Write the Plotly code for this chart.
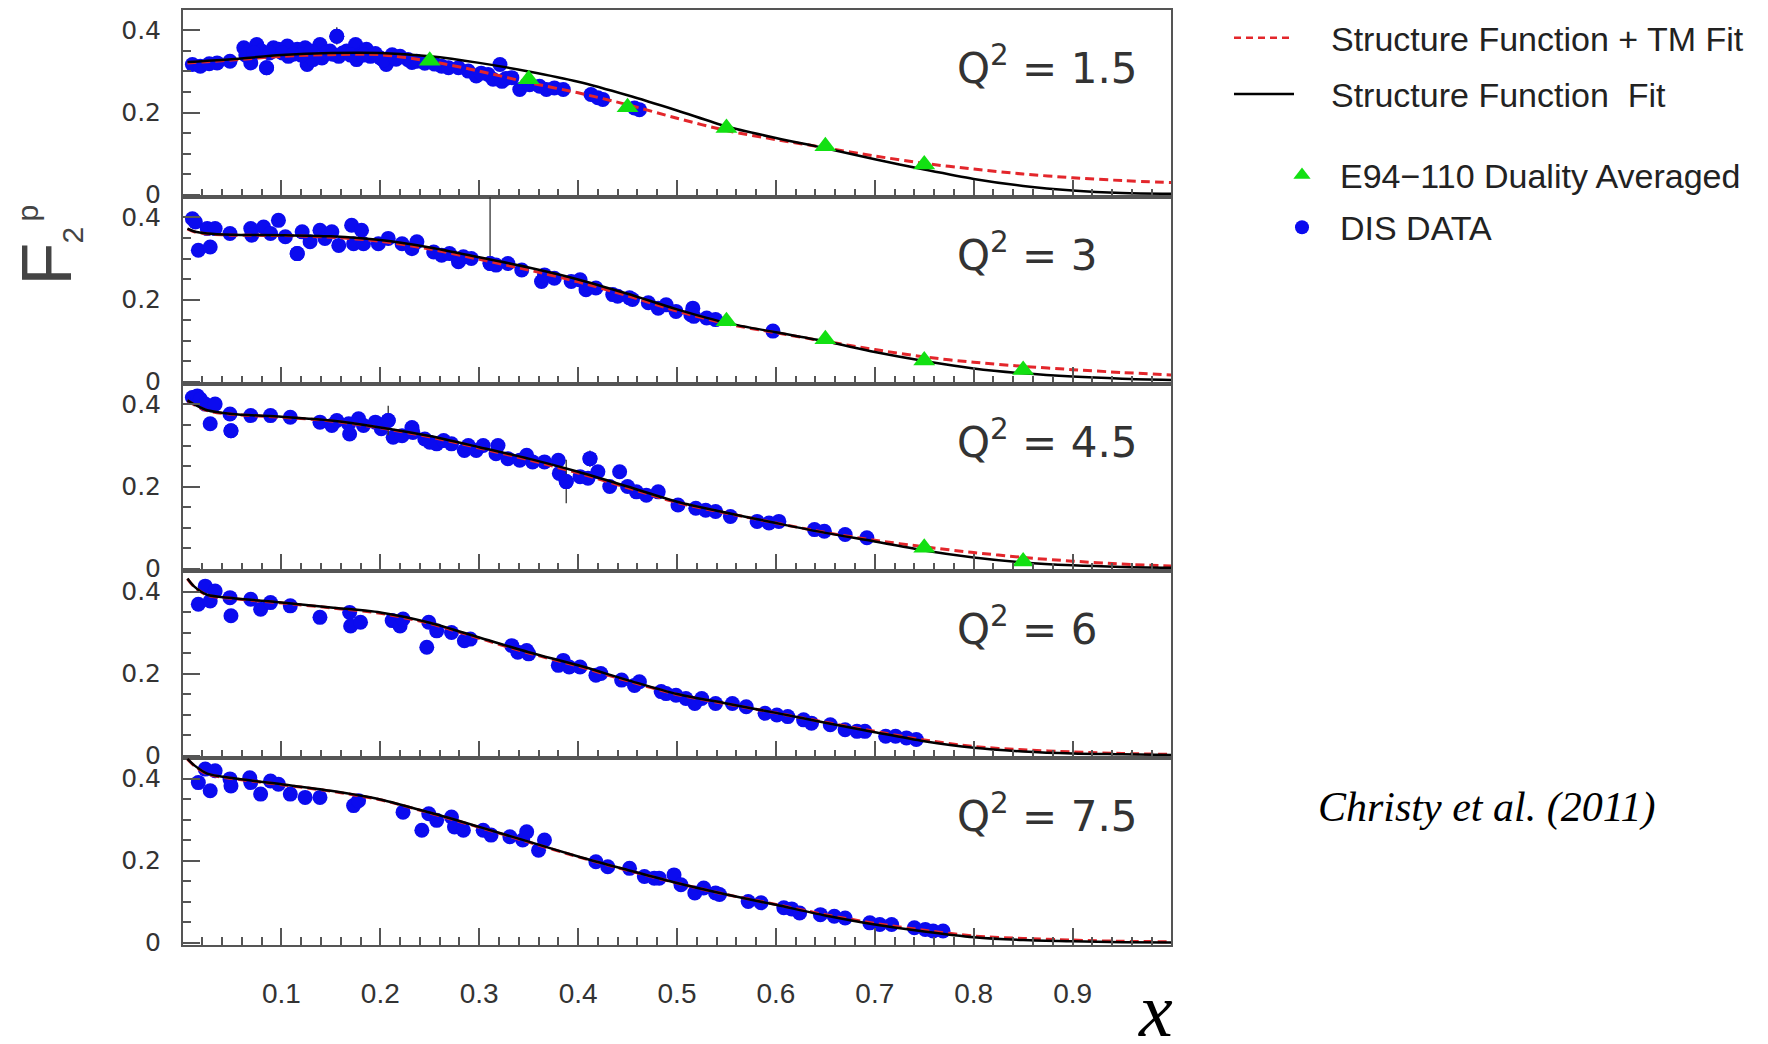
import plotly.graph_objects as go

W, H = 1768, 1044          # screen size the picture is taken at
OFF = 8                    # default page margin around the plot div
FW, FH = W - 2 * OFF, H - 2 * OFF

# ---------------- data ----------------
Q2_LABELS = ["1.5", "3", "4.5", "6", "7.5"]

X_TICK_STEP = 0.1
Y_TICK_STEP = 0.2

CURVE_X = [0.005, 0.012, 0.025, 0.05, 0.10, 0.15, 0.20, 0.25, 0.30, 0.35, 0.40, 0.45,
           0.50, 0.55, 0.60, 0.65, 0.70, 0.75, 0.80, 0.85, 0.90, 0.95, 1.00]

# "Structure Function Fit" (black solid), one list per Q^2 panel
SF_FIT = [
    [0.323, 0.324, 0.326, 0.330, 0.340, 0.345, 0.345, 0.337, 0.321, 0.300, 0.275, 0.242,
     0.205, 0.166, 0.138, 0.113, 0.086, 0.061, 0.038, 0.021, 0.010, 0.004, 0.002],
    [0.373, 0.366, 0.361, 0.358, 0.357, 0.354, 0.345, 0.327, 0.303, 0.278, 0.249, 0.214,
     0.176, 0.143, 0.120, 0.098, 0.072, 0.050, 0.032, 0.020, 0.012, 0.007, 0.004],
    [0.410, 0.400, 0.386, 0.377, 0.370, 0.361, 0.344, 0.323, 0.296, 0.268, 0.236, 0.200,
     0.163, 0.136, 0.111, 0.087, 0.066, 0.044, 0.027, 0.015, 0.008, 0.004, 0.002],
    [0.432, 0.412, 0.392, 0.384, 0.373, 0.361, 0.349, 0.324, 0.288, 0.252, 0.220, 0.184,
     0.150, 0.127, 0.104, 0.080, 0.057, 0.035, 0.019, 0.010, 0.005, 0.003, 0.001],
    [0.448, 0.432, 0.412, 0.401, 0.386, 0.370, 0.349, 0.317, 0.282, 0.246, 0.210, 0.177,
     0.145, 0.117, 0.092, 0.066, 0.044, 0.027, 0.013, 0.006, 0.003, 0.001, 0.000],
]

# "Structure Function + TM Fit" (red dashed)
SF_TM_FIT = [
    [0.321, 0.322, 0.324, 0.328, 0.337, 0.341, 0.341, 0.325, 0.301, 0.273, 0.248, 0.219,
     0.186, 0.156, 0.134, 0.114, 0.094, 0.076, 0.062, 0.050, 0.041, 0.034, 0.029],
    [0.372, 0.365, 0.360, 0.357, 0.356, 0.352, 0.342, 0.323, 0.298, 0.272, 0.243, 0.209,
     0.172, 0.141, 0.119, 0.098, 0.078, 0.060, 0.047, 0.037, 0.029, 0.022, 0.016],
    [0.409, 0.399, 0.385, 0.376, 0.369, 0.360, 0.343, 0.321, 0.294, 0.265, 0.233, 0.197,
     0.161, 0.135, 0.111, 0.088, 0.069, 0.053, 0.039, 0.027, 0.018, 0.011, 0.006],
    [0.431, 0.411, 0.391, 0.383, 0.372, 0.360, 0.347, 0.322, 0.286, 0.250, 0.218, 0.182,
     0.149, 0.126, 0.104, 0.081, 0.059, 0.038, 0.022, 0.014, 0.009, 0.005, 0.003],
    [0.447, 0.431, 0.411, 0.400, 0.385, 0.369, 0.348, 0.316, 0.281, 0.245, 0.209, 0.176,
     0.145, 0.117, 0.093, 0.068, 0.047, 0.030, 0.016, 0.010, 0.006, 0.003, 0.002],
]

# E94-110 duality averaged points
TRI_X = [[0.25, 0.35, 0.45, 0.55, 0.65, 0.75], [0.55, 0.65, 0.75, 0.85], [0.75, 0.85], [], []]
TRI_Y = [[0.326, 0.281, 0.213, 0.162, 0.118, 0.073], [0.147, 0.103, 0.051, 0.028], [0.051, 0.017], [], []]

# DIS data
P1_X = [0.010, 0.018, 0.027, 0.035, 0.048, 0.062, 0.067, 0.069, 0.075, 0.080, 0.085, 0.092, 0.097,
        0.106, 0.107, 0.116, 0.124, 0.126, 0.132, 0.139, 0.141, 0.149, 0.156, 0.158, 0.166, 0.175,
        0.176, 0.180, 0.186, 0.190, 0.200, 0.206, 0.212, 0.220, 0.228, 0.237, 0.262, 0.269, 0.279,
        0.289, 0.297, 0.309, 0.314, 0.321, 0.323, 0.333, 0.341, 0.351, 0.361, 0.368, 0.376, 0.385,
        0.413, 0.420, 0.425, 0.457, 0.462,
        0.064, 0.072, 0.088, 0.101, 0.112, 0.120, 0.130, 0.145, 0.152, 0.162, 0.170, 0.183, 0.195,
        0.203, 0.216, 0.232, 0.245, 0.255, 0.302, 0.327]
P1_Y = [0.317, 0.313, 0.319, 0.321, 0.325, 0.358, 0.350, 0.321, 0.366, 0.350, 0.309, 0.358, 0.354,
        0.362, 0.337, 0.354, 0.358, 0.317, 0.329, 0.366, 0.333, 0.350, 0.386, 0.337, 0.350, 0.366,
        0.329, 0.341, 0.354, 0.337, 0.333, 0.317, 0.341, 0.337, 0.329, 0.325, 0.313, 0.309, 0.309,
        0.301, 0.289, 0.293, 0.281, 0.317, 0.276, 0.285, 0.256, 0.268, 0.264, 0.256, 0.260, 0.256,
        0.244, 0.236, 0.232, 0.211, 0.207,
        0.340, 0.345, 0.345, 0.345, 0.342, 0.340, 0.350, 0.345, 0.342, 0.345, 0.340, 0.340, 0.344,
        0.328, 0.330, 0.322, 0.320, 0.318, 0.296, 0.283]

P2_X = [0.010, 0.013, 0.016, 0.025, 0.028, 0.033, 0.048, 0.069, 0.070, 0.082, 0.089, 0.097, 0.104,
        0.116, 0.121, 0.129, 0.139, 0.144, 0.151, 0.158, 0.171, 0.173, 0.181, 0.183, 0.198, 0.208,
        0.222, 0.232, 0.237, 0.254, 0.262, 0.270, 0.279, 0.284, 0.292, 0.311, 0.317, 0.329, 0.343,
        0.363, 0.366, 0.376, 0.393, 0.402, 0.408, 0.418, 0.435, 0.440, 0.452, 0.455, 0.471, 0.481,
        0.489, 0.499, 0.514, 0.516, 0.517, 0.530, 0.539, 0.597]
P2_Y = [0.397, 0.389, 0.320, 0.373, 0.328, 0.373, 0.361, 0.373, 0.357, 0.377, 0.361, 0.393, 0.353,
        0.312, 0.365, 0.341, 0.369, 0.349, 0.365, 0.332, 0.381, 0.336, 0.369, 0.336, 0.336, 0.349,
        0.336, 0.324, 0.341, 0.316, 0.308, 0.312, 0.292, 0.304, 0.300, 0.288, 0.284, 0.288, 0.272,
        0.244, 0.260, 0.252, 0.244, 0.248, 0.224, 0.228, 0.212, 0.208, 0.204, 0.200, 0.192, 0.179,
        0.187, 0.171, 0.163, 0.179, 0.159, 0.155, 0.151, 0.123]

P3_X = [0.010, 0.015, 0.018, 0.023, 0.028, 0.033, 0.048, 0.049, 0.069, 0.089, 0.109, 0.139, 0.151,
        0.156, 0.168, 0.169, 0.178, 0.183, 0.195, 0.201, 0.208, 0.213, 0.222, 0.232, 0.233, 0.245,
        0.250, 0.257, 0.264, 0.272, 0.285, 0.289, 0.297, 0.304, 0.317, 0.319, 0.329, 0.341, 0.348,
        0.354, 0.366, 0.380, 0.381, 0.388, 0.402, 0.410, 0.412, 0.420, 0.432, 0.442, 0.450, 0.459,
        0.469, 0.481, 0.501, 0.519, 0.529, 0.539, 0.554, 0.581, 0.593, 0.603, 0.639, 0.649, 0.670,
        0.692]
P3_Y = [0.417, 0.421, 0.413, 0.401, 0.353, 0.401, 0.377, 0.336, 0.373, 0.373, 0.369, 0.357, 0.349,
        0.361, 0.353, 0.328, 0.365, 0.349, 0.357, 0.341, 0.361, 0.320, 0.324, 0.344, 0.332, 0.316,
        0.308, 0.304, 0.312, 0.304, 0.288, 0.300, 0.288, 0.300, 0.280, 0.300, 0.268, 0.264, 0.276,
        0.260, 0.260, 0.264, 0.232, 0.212, 0.224, 0.220, 0.268, 0.236, 0.200, 0.236, 0.200, 0.187,
        0.179, 0.187, 0.155, 0.147, 0.142, 0.139, 0.127, 0.115, 0.111, 0.115, 0.095, 0.091, 0.083,
        0.075]

P4_X = [0.016, 0.023, 0.028, 0.033, 0.048, 0.049, 0.069, 0.079, 0.089, 0.109, 0.139, 0.169, 0.170,
        0.180, 0.212, 0.220, 0.223, 0.247, 0.249, 0.257, 0.272, 0.285, 0.291, 0.333, 0.339, 0.348,
        0.350, 0.380, 0.385, 0.391, 0.402, 0.418, 0.423, 0.444, 0.457, 0.462, 0.484, 0.489, 0.499,
        0.509, 0.518, 0.525, 0.539, 0.556, 0.570, 0.589, 0.601, 0.612, 0.628, 0.636, 0.655, 0.670,
        0.682, 0.690, 0.711, 0.721, 0.732, 0.742]
P4_Y = [0.369, 0.413, 0.377, 0.401, 0.385, 0.341, 0.381, 0.357, 0.373, 0.365, 0.337, 0.349, 0.316,
        0.325, 0.329, 0.316, 0.333, 0.264, 0.325, 0.304, 0.300, 0.280, 0.284, 0.268, 0.252, 0.256,
        0.248, 0.220, 0.232, 0.216, 0.216, 0.196, 0.200, 0.184, 0.171, 0.180, 0.156, 0.151, 0.147,
        0.139, 0.127, 0.139, 0.127, 0.127, 0.119, 0.103, 0.099, 0.095, 0.087, 0.079, 0.075, 0.063,
        0.059, 0.059, 0.047, 0.047, 0.043, 0.039]

P5_X = [0.016, 0.023, 0.028, 0.033, 0.048, 0.049, 0.068, 0.069, 0.079, 0.089, 0.097, 0.109, 0.124,
        0.139, 0.173, 0.178, 0.223, 0.242, 0.249, 0.257, 0.272, 0.275, 0.284, 0.304, 0.312, 0.331,
        0.344, 0.348, 0.360, 0.366, 0.418, 0.430, 0.452, 0.467, 0.477, 0.482, 0.497, 0.504, 0.518,
        0.527, 0.539, 0.543, 0.572, 0.585, 0.608, 0.616, 0.624, 0.645, 0.659, 0.670, 0.695, 0.705,
        0.717, 0.740, 0.751, 0.759, 0.769]
P5_Y = [0.390, 0.423, 0.370, 0.419, 0.399, 0.382, 0.402, 0.390, 0.362, 0.394, 0.386, 0.362, 0.354,
        0.354, 0.334, 0.346, 0.318, 0.274, 0.314, 0.298, 0.306, 0.282, 0.274, 0.274, 0.262, 0.258,
        0.250, 0.270, 0.225, 0.250, 0.197, 0.185, 0.181, 0.161, 0.157, 0.157, 0.165, 0.141, 0.121,
        0.133, 0.121, 0.117, 0.100, 0.097, 0.085, 0.082, 0.072, 0.068, 0.064, 0.060, 0.048, 0.044,
        0.044, 0.036, 0.032, 0.028, 0.028]

DIS_X = [P1_X, P2_X, P3_X, P4_X, P5_X]
DIS_Y = [P1_Y, P2_Y, P3_Y, P4_Y, P5_Y]

# DIS points with visible error bars
ERR_X = [[0.156, 0.085], [0.311, 0.116], [0.388, 0.412, 0.208, 0.049], [], []]
ERR_Y = [[0.386, 0.309], [0.288, 0.312], [0.212, 0.268, 0.361, 0.336], [], []]
ERR_MINUS = [[0.020, 0.014], [0.0, 0.012], [0.053, 0.020, 0.036, 0.016], [], []]
ERR_PLUS = [[0.022, 0.010], [0.170, 0.012], [0.053, 0.020, 0.036, 0.016], [], []]

LEGEND_LABELS = ["Structure Function + TM Fit", "Structure Function\u00a0\u00a0Fit",
                 "E94\u2212110 Duality Averaged", "DIS DATA"]

# ---------------- styling ----------------
BLUE = "#0b0bef"
GREEN = "#12e012"
RED = "#e3262b"
AXC = "#555555"
TXT = "#333333"
DOT = 15
TRI = 19


def px_x(p):
    """screen pixel -> paper x"""
    return (p - OFF) / FW


def px_y(p):
    """screen pixel -> paper y"""
    return 1 - (p - OFF) / FH


PLOT_L, PLOT_R, PLOT_T, PLOT_B = 183, 1171, 9, 956
NP = 5
PH = (PLOT_B - PLOT_T) / NP

fig = go.Figure()
layout = dict(
    width=FW, height=FH, margin=dict(l=0, r=0, t=0, b=0),
    paper_bgcolor="white", plot_bgcolor="white", showlegend=False,
)

annotations = []
for k in range(NP):
    xa = "x" if k == 0 else f"x{k+1}"
    ya = "y" if k == 0 else f"y{k+1}"
    top = PLOT_T + k * PH
    bot = top + PH
    layout["xaxis" if k == 0 else f"xaxis{k+1}"] = dict(
        domain=[px_x(PLOT_L), px_x(PLOT_R)], range=[0.0005, 0.9995], anchor=ya,
        showline=True, mirror=True, linecolor=AXC, linewidth=2,
        ticks="inside", ticklen=17, tickwidth=1.5, tickcolor=AXC,
        tick0=0, dtick=X_TICK_STEP,
        minor=dict(ticks="inside", ticklen=8, tickwidth=1.5, tickcolor=AXC, tick0=0, dtick=0.02),
        showgrid=False, zeroline=False, showticklabels=(k == NP - 1),
        tickfont=dict(family="Liberation Sans", size=28, color=TXT), ticklabelstandoff=22,
    )
    layout["yaxis" if k == 0 else f"yaxis{k+1}"] = dict(
        domain=[px_y(bot), px_y(top)], range=[-0.006, 0.45], anchor=xa,
        showline=True, mirror=True, linecolor=AXC, linewidth=2,
        ticks="inside", ticklen=17, tickwidth=1.5, tickcolor=AXC,
        tick0=0, dtick=Y_TICK_STEP,
        minor=dict(ticks="inside", ticklen=8, tickwidth=1.5, tickcolor=AXC, tick0=0, dtick=0.05),
        showgrid=False, zeroline=False,
        tickfont=dict(family="DejaVu Sans", size=25, color=TXT), ticklabelstandoff=15,
    )

    fig.add_trace(go.Scatter(x=DIS_X[k], y=DIS_Y[k], mode="markers", xaxis=xa, yaxis=ya,
                             marker=dict(color=BLUE, size=DOT, line=dict(width=0))))
    if ERR_X[k]:
        fig.add_trace(go.Scatter(
            x=ERR_X[k], y=ERR_Y[k], mode="markers", xaxis=xa, yaxis=ya,
            marker=dict(color=BLUE, size=DOT, line=dict(width=0)),
            error_y=dict(type="data", symmetric=False, array=ERR_PLUS[k], arrayminus=ERR_MINUS[k],
                         color="#333333", thickness=1.3, width=0)))
    fig.add_trace(go.Scatter(x=CURVE_X, y=SF_TM_FIT[k], mode="lines", xaxis=xa, yaxis=ya,
                             line=dict(color=RED, width=3, dash="9px,5px", shape="spline", smoothing=0.8)))
    fig.add_trace(go.Scatter(x=CURVE_X, y=SF_FIT[k], mode="lines", xaxis=xa, yaxis=ya,
                             line=dict(color="black", width=2.5, shape="spline", smoothing=0.8)))
    if TRI_X[k]:
        fig.add_trace(go.Scatter(x=TRI_X[k], y=TRI_Y[k], mode="markers", xaxis=xa, yaxis=ya,
                                 marker=dict(color=GREEN, size=TRI, symbol="triangle-up", line=dict(width=0))))

    annotations.append(dict(
        x=0.781, y=0.314, xref=xa, yref=ya, xanchor="left", yanchor="middle", showarrow=False,
        text=f"Q<sup>2</sup> = {Q2_LABELS[k]}",
        font=dict(family="DejaVu Sans", size=42, color=TXT)))

# ---------------- legend (hidden axis scaled in screen pixels) ----------------
LX0, LY1 = 1200, 260
layout["xaxis6"] = dict(domain=[px_x(LX0), 1], range=[LX0, OFF + FW], anchor="y6", visible=False)
layout["yaxis6"] = dict(domain=[px_y(LY1), 1], range=[LY1, OFF], anchor="x6", visible=False)

fig.add_trace(go.Scatter(x=[1234, 1294], y=[37, 37], mode="lines", xaxis="x6", yaxis="y6",
                         line=dict(color=RED, width=2.5, dash="7px,5px")))
fig.add_trace(go.Scatter(x=[1234, 1294], y=[94, 94], mode="lines", xaxis="x6", yaxis="y6",
                         line=dict(color="black", width=2.5)))
fig.add_trace(go.Scatter(x=[1302], y=[176], mode="markers", xaxis="x6", yaxis="y6",
                         marker=dict(color=GREEN, size=15, symbol="triangle-up")))
fig.add_trace(go.Scatter(x=[1302], y=[229], mode="markers", xaxis="x6", yaxis="y6",
                         marker=dict(color=BLUE, size=14)))
for lab, lx, ly in zip(LEGEND_LABELS, [1329, 1329, 1338, 1338], [38, 95, 177, 230]):
    annotations.append(dict(x=lx, y=ly, xref="x6", yref="y6", xanchor="left", yanchor="middle",
                            showarrow=False, text=lab,
                            font=dict(family="Liberation Sans", size=34, color="#222222")))

# ---------------- other texts ----------------
annotations.append(dict(x=px_x(1487), y=px_y(817), xref="paper", yref="paper", showarrow=False,
                        xanchor="center", yanchor="middle", text="<i>Christy et al. (2011)</i>",
                        font=dict(family="Liberation Serif", size=42, color="black")))
annotations.append(dict(x=px_x(1155), y=px_y(1022), xref="paper", yref="paper", showarrow=False,
                        xanchor="center", yanchor="middle", text="<i>x</i>",
                        font=dict(family="Liberation Serif", size=76, color="black")))
# y-axis title F_2^p (rotated)
annotations.append(dict(x=px_x(47), y=px_y(266.7), xref="paper", yref="paper", showarrow=False,
                        xanchor="center", yanchor="middle", textangle=-90, text="F",
                        font=dict(family="Liberation Sans", size=70, color="#444444")))
annotations.append(dict(x=px_x(73), y=px_y(237.5), xref="paper", yref="paper", showarrow=False,
                        xanchor="center", yanchor="middle", textangle=-90, text="2",
                        font=dict(family="Liberation Sans", size=30, color="#444444")))
annotations.append(dict(x=px_x(27), y=px_y(215), xref="paper", yref="paper", showarrow=False,
                        xanchor="center", yanchor="middle", textangle=-90, text="p",
                        font=dict(family="Liberation Sans", size=30, color="#444444")))

layout["annotations"] = annotations
fig.update_layout(**layout)
fig.write_html("out.html")
